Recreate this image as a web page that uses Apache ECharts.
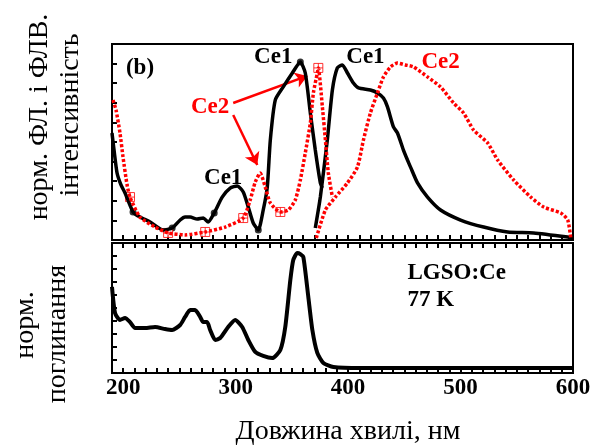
<!DOCTYPE html>
<html>
<head>
<meta charset="utf-8">
<script src="https://cdn.jsdelivr.net/npm/echarts@6/dist/echarts.min.js"></script>
<style>
html, body { margin: 0; padding: 0; background: #fff; }
#main { width: 606px; height: 446px; }
</style>
</head>
<body>
<div id="main"></div>
<script>
// верхня панель: збудження / люмінесценція, Ce1 (чорна) і Ce2 (червона)
var ce1ExWl = [190, 191.8, 194.5, 198, 201.6, 208.7, 214.9, 223.9, 235.4, 243.5, 250.6, 255, 259.5, 265.7, 271.1, 275.5, 280.9, 288, 295.1, 301.4, 306.7, 311.2, 315.6, 320.1, 324.5, 328.1, 330.8, 335.2, 342.3, 350.4, 357.5, 361.9, 366.4, 370.8, 375.3, 377.1];
var ce1ExI = [0.546, 0.459, 0.342, 0.281, 0.240, 0.143, 0.117, 0.092, 0.051, 0.061, 0.102, 0.117, 0.117, 0.107, 0.112, 0.092, 0.138, 0.219, 0.265, 0.276, 0.245, 0.168, 0.087, 0.051, 0.153, 0.270, 0.510, 0.714, 0.781, 0.852, 0.908, 0.852, 0.648, 0.459, 0.291, 0.265];

var ce1EmWl = [370.8, 375.3, 381.5, 386, 390.4, 394.9, 399.4, 404.7, 409.2, 419.8, 426.1, 431.4, 435, 440.3, 443.9, 449.2, 452.8, 455.5, 461.7, 470.6, 482.2, 500, 520.5, 541.9, 565, 595.3, 599.8];
var ce1EmI = [0.061, 0.219, 0.510, 0.765, 0.878, 0.893, 0.852, 0.801, 0.776, 0.765, 0.750, 0.724, 0.679, 0.577, 0.546, 0.459, 0.408, 0.372, 0.291, 0.219, 0.153, 0.102, 0.066, 0.041, 0.036, 0.015, 0.010];

var ce2ExWl = [190.9, 193.6, 197.1, 199.8, 203.4, 206, 214.9, 228.3, 239.9, 255, 272.9, 290.7, 306.7, 312.9, 317.4, 321.8, 326.3, 330.8, 339.7, 346.8, 353, 357.5, 361.9, 366.4, 369.1, 372.6, 373.5, 377.1, 379.8, 382.4, 386];
var ce2ExI = [0.714, 0.663, 0.546, 0.423, 0.281, 0.219, 0.117, 0.066, 0.036, 0.026, 0.041, 0.066, 0.112, 0.204, 0.296, 0.342, 0.270, 0.189, 0.143, 0.153, 0.204, 0.306, 0.444, 0.597, 0.750, 0.852, 0.878, 0.679, 0.510, 0.342, 0.219];

var ce2EmWl = [371.7, 379.8, 388.7, 399.4, 408.3, 413.6, 419.8, 426.1, 431.4, 437.7, 443.9, 451, 458.2, 470.6, 482.2, 493.8, 502.7, 511.6, 524.1, 533, 547.2, 562.4, 574, 589.1, 595.3, 598];
var ce2EmI = [0.010, 0.153, 0.219, 0.291, 0.372, 0.510, 0.648, 0.750, 0.832, 0.883, 0.903, 0.893, 0.883, 0.832, 0.781, 0.699, 0.648, 0.561, 0.495, 0.408, 0.306, 0.219, 0.168, 0.138, 0.102, 0.010];

// маркери на кривих
var ce1Dots = [[208.7, 0.143], [243.5, 0.061], [280.9, 0.138], [320.1, 0.051], [357.5, 0.908]];
var ce2Boxes = [[206, 0.219], [239.9, 0.036], [272.9, 0.041], [306.7, 0.112], [339.7, 0.143], [373.5, 0.878]];

// нижня панель: поглинання
var absWl = [190, 192.7, 197.1, 201.6, 206, 210.5, 219.4, 228.3, 237.2, 243.5, 250.6, 255, 259.5, 263.9, 268.4, 271.1, 274.6, 277.3, 281.8, 286.2, 293.3, 299.6, 305.8, 311.2, 317.4, 324.5, 332.5, 339.7, 344.1, 348.6, 351.2, 354.8, 357.5, 360.2, 364.6, 368.2, 372.6, 378, 386.9, 410.9, 491.1, 600];
var absI = [0.662, 0.462, 0.408, 0.423, 0.392, 0.346, 0.346, 0.354, 0.338, 0.331, 0.369, 0.431, 0.485, 0.485, 0.431, 0.392, 0.392, 0.331, 0.254, 0.269, 0.354, 0.408, 0.354, 0.254, 0.162, 0.131, 0.115, 0.177, 0.354, 0.715, 0.869, 0.923, 0.915, 0.892, 0.585, 0.331, 0.154, 0.077, 0.046, 0.038, 0.038, 0.038];

// підписи і стрілки
var blackNotes = [[214.9, 0.878, '(b)'], [288.9, 0.316, 'Ce1'], [333.4, 0.934, 'Ce1'], [415.4, 0.934, 'Ce1']];
var redNotes = [[277.3, 0.679, 'Ce2'], [482.2, 0.908, 'Ce2']];
var arrows = [[[297.8, 0.699], [363.7, 0.837]], [[297.8, 0.638], [319.2, 0.383]]];
var sampleNotes = [[452.8, 0.769, 'LGSO:Ce'], [452.8, 0.562, '77 K']];

function zip(a, b) {
    return a.map(function (x, i) { return [x, b[i]]; });
}

var SERIF = '"Liberation Serif", "DejaVu Serif", serif';
var RED = '#ff0000';

function notePoints(list, color, pos) {
    return {
        symbol: 'circle',
        symbolSize: 0,
        silent: true,
        itemStyle: { color: 'transparent' },
        label: {
            show: true,
            position: pos || 'inside',
            distance: 0,
            color: color,
            fontFamily: SERIF,
            fontWeight: 'bold',
            fontSize: 23,
            formatter: function (p) { return p.data.name; }
        },
        data: list.map(function (n) { return { name: n[2], coord: [n[0], n[1]] }; })
    };
}

function xAxisCfg(grid, showLabels, pos) {
    return {
        type: 'value',
        gridIndex: grid,
        position: pos,
        min: 190,
        max: 600,
        interval: 10,
        axisLine: { show: true, onZero: false, lineStyle: { color: '#000', width: 2 } },
        axisTick: { show: true, inside: true, length: 5, lineStyle: { color: '#000', width: 2 } },
        splitLine: { show: false },
        axisLabel: {
            show: showLabels,
            margin: 4,
            color: '#000',
            fontFamily: SERIF,
            fontWeight: 'bold',
            fontSize: 23,
            formatter: function (v) { return v % 100 === 0 ? v : ''; }
        }
    };
}

function yAxisCfg(grid, step) {
    return {
        type: 'value',
        gridIndex: grid,
        min: 0,
        max: 1,
        interval: step,
        axisLine: { show: true, lineStyle: { color: '#000', width: 2 } },
        axisTick: { show: true, inside: true, length: 5, lineStyle: { color: '#000', width: 2 } },
        splitLine: { show: false },
        axisLabel: { show: false }
    };
}

var myChart = echarts.init(document.getElementById('main'));

var option = {
    backgroundColor: '#fff',
    animation: false,
    grid: [
        { left: 112, top: 44, width: 461, height: 196, show: true, borderColor: '#000', borderWidth: 2 },
        { left: 112, top: 243, width: 461, height: 130, show: true, borderColor: '#000', borderWidth: 2 }
    ],
    xAxis: [
        xAxisCfg(0, false, 'bottom'),
        xAxisCfg(1, true, 'bottom'),
        xAxisCfg(1, false, 'top')
    ],
    yAxis: [
        yAxisCfg(0, 0.1),
        yAxisCfg(1, 0.1)
    ],
    graphic: [
        { type: 'text', x: 40, y: 117, rotation: Math.PI / 2,
          style: { text: 'норм. ФЛ. і ФЛВ.', font: '28px ' + SERIF, fill: '#000', align: 'center', verticalAlign: 'middle' } },
        { type: 'text', x: 71, y: 115, rotation: Math.PI / 2,
          style: { text: 'інтенсивність', font: '28px ' + SERIF, fill: '#000', align: 'center', verticalAlign: 'middle' } },
        { type: 'text', x: 26, y: 325, rotation: Math.PI / 2,
          style: { text: 'норм.', font: '28px ' + SERIF, fill: '#000', align: 'center', verticalAlign: 'middle' } },
        { type: 'text', x: 58, y: 334, rotation: Math.PI / 2,
          style: { text: 'поглинання', font: '28px ' + SERIF, fill: '#000', align: 'center', verticalAlign: 'middle' } },
        { type: 'text', x: 348, y: 432,
          style: { text: 'Довжина хвилі, нм', font: '28px ' + SERIF, fill: '#000', align: 'center', verticalAlign: 'middle' } }
    ],
    series: [
        {
            name: 'Ce1 збудження',
            type: 'line',
            xAxisIndex: 0, yAxisIndex: 0,
            data: zip(ce1ExWl, ce1ExI),
            showSymbol: false,
            smooth: 0.2,
            lineStyle: { color: '#000', width: 3.5 },
            markPoint: notePoints(blackNotes, '#000')
        },
        {
            name: 'Ce1 люмінесценція',
            type: 'line',
            xAxisIndex: 0, yAxisIndex: 0,
            data: zip(ce1EmWl, ce1EmI),
            showSymbol: false,
            smooth: 0.2,
            lineStyle: { color: '#000', width: 3.5 }
        },
        {
            name: 'Ce2 збудження',
            type: 'line',
            xAxisIndex: 0, yAxisIndex: 0,
            data: zip(ce2ExWl, ce2ExI),
            showSymbol: false,
            smooth: 0.2,
            lineStyle: { color: RED, width: 3.5, type: [3, 2] }
        },
        {
            name: 'Ce2 люмінесценція',
            type: 'line',
            xAxisIndex: 0, yAxisIndex: 0,
            data: zip(ce2EmWl, ce2EmI),
            showSymbol: false,
            smooth: 0.2,
            lineStyle: { color: RED, width: 3.5, type: [3, 2] },
            markPoint: notePoints(redNotes, RED)
        },
        {
            name: 'стрілки',
            type: 'lines',
            coordinateSystem: 'cartesian2d',
            xAxisIndex: 0, yAxisIndex: 0,
            silent: true,
            symbol: ['none', 'arrow'],
            symbolSize: 12,
            lineStyle: { color: RED, width: 2.5, opacity: 1 },
            data: arrows.map(function (a) { return { coords: a }; })
        },
        {
            type: 'scatter',
            xAxisIndex: 0, yAxisIndex: 0,
            data: ce1Dots,
            symbol: 'circle',
            symbolSize: 7,
            itemStyle: { color: '#000' }
        },
        {
            type: 'scatter',
            xAxisIndex: 0, yAxisIndex: 0,
            data: ce2Boxes,
            symbol: 'path://M0 0H10V10H0ZM5 0V10M0 5H10',
            symbolSize: 9,
            itemStyle: { color: '#fff', borderColor: RED, borderWidth: 1 }
        },
        {
            name: 'поглинання',
            type: 'line',
            xAxisIndex: 1, yAxisIndex: 1,
            data: zip(absWl, absI),
            showSymbol: false,
            smooth: 0.2,
            lineStyle: { color: '#000', width: 4 },
            markPoint: notePoints(sampleNotes, '#000', 'right')
        }
    ]
};

myChart.setOption(option);
</script>
</body>
</html>
